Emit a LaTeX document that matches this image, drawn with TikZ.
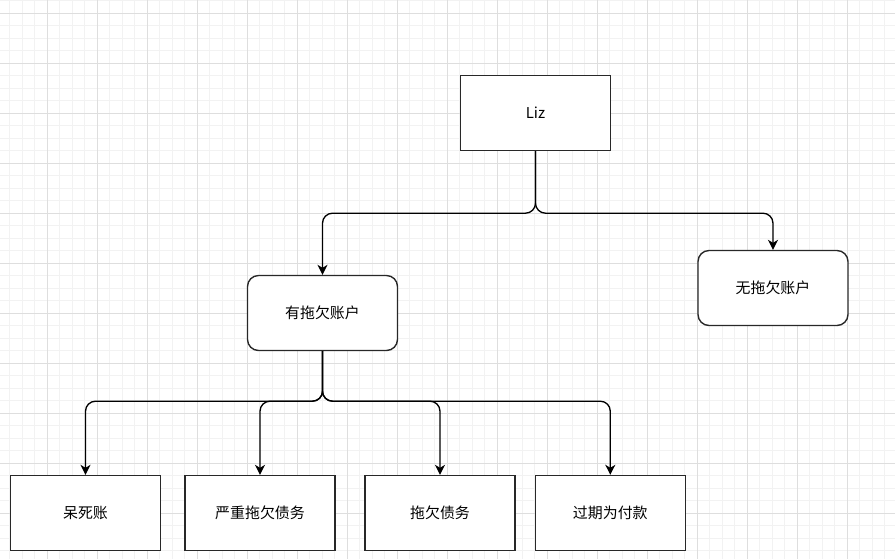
\documentclass[tikz,border=0pt]{standalone}
\usepackage{fontspec}
\setmainfont{Noto Sans CJK SC}
\usetikzlibrary{arrows.meta}
\definecolor{gridmin}{RGB}{242,242,242}
\definecolor{gridmaj}{RGB}{222,222,222}
\definecolor{boxline}{RGB}{40,40,40}
\tikzset{
  box/.style={draw=boxline, line width=0.8pt, fill=white, minimum width=3cm, minimum height=1.5cm, font=\fontsize{8.5}{10}\selectfont},
  roundbox/.style={box, rounded corners=0.22cm},
  link/.style={line width=0.75pt, rounded corners=0.2cm, -{Stealth[length=0.2cm,width=0.2cm,inset=0.06cm]}}
}
\begin{document}
\begin{tikzpicture}[x={(0.02cm,0)},y={(0,-0.02cm)}]
\useasboundingbox (0,0) rectangle (895,559);
\fill [white] (0,0) rectangle (895,559);
\foreach \i in {0,...,72} {
  \draw [gridmin, line width=0.5pt] ({9.8+12.5*\i},0)--({9.8+12.5*\i},559);
}
\foreach \i in {0,...,45} {
  \draw [gridmin, line width=0.5pt] (0,{0.8+12.5*\i})--(895,{0.8+12.5*\i});
}
\foreach \i in {0,...,17} {
  \draw [gridmaj, line width=0.5pt] ({47.3+50*\i},0)--({47.3+50*\i},559);
}
\foreach \i in {0,...,11} {
  \draw [gridmaj, line width=0.5pt] (0,{13.3+50*\i})--(895,{13.3+50*\i});
}

\node [box] (liz) at (535.5,113) {Liz};
\node [roundbox] (arrears) at (322.5,313) {有拖欠账户};
\node [roundbox] (noarrears) at (773,288) {无拖欠账户};
\node [box] (baddebt) at (85.5,513) {呆死账};
\node [box] (severe) at (260,513) {严重拖欠债务};
\node [box] (owed) at (440,513) {拖欠债务};
\node [box] (overdue) at (610.3,513) {过期为付款};

\draw [link] (liz.south) -- ++(0,62) -| (arrears.north);
\draw [link] (liz.south) -- ++(0,62) -| (noarrears.north);
\foreach \c in {baddebt,severe,owed,overdue}
  \draw [link] (arrears.south) -- ++(0,50) -| (\c.north);

\end{tikzpicture}
\end{document}
